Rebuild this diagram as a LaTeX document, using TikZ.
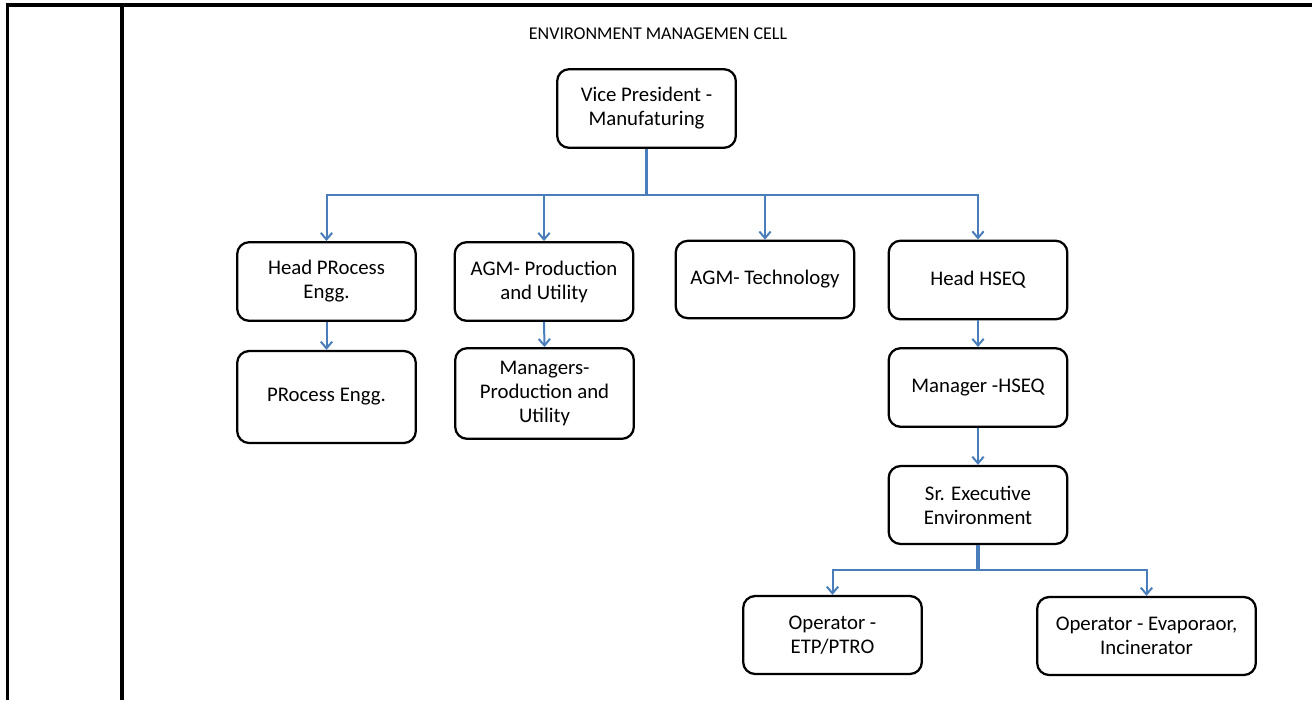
\documentclass[tikz,border=0pt]{standalone}
\usepackage{fontspec}
\setmainfont{Carlito}
\usetikzlibrary{arrows.meta}
\definecolor{conblue}{HTML}{4A7EBB}
\tikzset{
  box/.style={draw=black, line width=1.7pt, rounded corners=9pt, minimum width=#1, minimum height=59pt,
    align=center, font=\fontsize{15.6}{18}\selectfont, inner sep=2pt},
  box/.default=134pt,
  conn/.style={draw=conblue, line width=1.5pt},
  trunk/.style={draw=conblue, line width=2.3pt},
  arr/.style={conn, -{Straight Barb[length=5pt,width=8.5pt,line width=1.5pt]}},
  rule/.style={draw=black, line width=2.4pt}
}
\begin{document}
\begin{tikzpicture}[x=0.75pt,y=-0.75pt]
\useasboundingbox (0,0) rectangle (1312,700);
% table rules
\coordinate (tl) at (7.5,5);
\coordinate (tr) at (1312,5);
\coordinate (bl) at (7.5,700);
\coordinate (tm) at (122,5);
\coordinate (bm) at (122,700);
\draw[rule] (bl) -- (tl) -- (tr);
\draw[rule] (tm) -- (bm);
% title
\node[font=\fontsize{13.5}{16}\selectfont] (title) at (658,33.5) {ENVIRONMENT MANAGEMEN CELL};
% boxes
\node[box] (vp) at (646.5,108.5) {Vice President -\\Manufaturing};
\node[box] (hpe) at (326.5,281.5) {Head PRocess\\Engg.};
\node[box] (agmp) at (544,281.5) {AGM- Production\\and Utility};
\node[box, minimum height=58pt] (agmt) at (765,279.5) {AGM- Technology};
\node[box] (hhseq) at (978,280) {Head HSEQ};
\node[box, minimum height=69pt] (pe) at (326.5,397) {PRocess Engg.};
\node[box, minimum height=68pt] (mpu) at (544.5,393.5) {Managers-\\Production and\\Utility};
\node[box] (mhseq) at (978,387.5) {Manager -HSEQ};
\node[box, minimum height=58.5pt] (sre) at (978,505) {Sr. Executive\\Environment};
\node[box, minimum height=58.5pt] (oetp) at (832.5,635) {Operator -\\ETP/PTRO};
\node[box=164pt, minimum height=58.5pt] (oeva) at (1146.5,636) {Operator - Evaporaor,\\Incinerator};
% connectors
\coordinate (bus) at (646.5,195);
\draw[trunk] (vp.south) -- (bus);
\draw[arr] (bus) -| (hpe.north);
\draw[arr] (bus) -| (agmp.north);
\draw[arr] (bus) -| (agmt.north);
\draw[arr] (bus) -| (hhseq.north);
\draw[arr] (hpe.south) -- (pe.north);
\draw[arr] (agmp.south) -- (mpu.north);
\draw[arr] (hhseq.south) -- (mhseq.north);
\draw[arr] (mhseq.south) -- (sre.north);
\coordinate (bus2) at (978,570);
\draw[trunk] (sre.south) -- (bus2);
\draw[arr] (bus2) -| (oetp.north);
\draw[arr] (bus2) -| (oeva.north);
\end{tikzpicture}
\end{document}
